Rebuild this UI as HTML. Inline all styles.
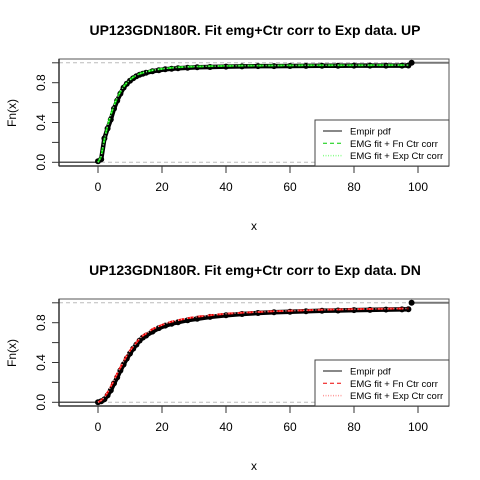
<!DOCTYPE html>
<html><head><meta charset="utf-8">
<style>
body{margin:0;background:#fff;width:480px;height:480px;overflow:hidden}
svg{display:block;font-family:"Liberation Sans",sans-serif}
</style></head>
<body>
<svg id="c" width="480" height="480" viewBox="0 0 480 480"></svg>
<script>
const xTicks=[0,20,40,60,80,100];
const yTicks=[0,0.4,0.8];
const yMinor=[0.2,0.6];
const upX=[0,1,2,3,4,5,6,7,8,9,10,11,12,13,14,15,17,19,21,23,25,28,31,35,40,45,50,55,60,65,70,75,80,85,90,95,97];
const upF=[0.01,0.03,0.24,0.34,0.43,0.54,0.62,0.69,0.75,0.79,0.82,0.845,0.865,0.88,0.89,0.9,0.915,0.925,0.935,0.94,0.945,0.95,0.955,0.958,0.962,0.964,0.966,0.967,0.968,0.969,0.97,0.97,0.971,0.971,0.972,0.972,0.973];
const upFitF=[0.0,0.06,0.23,0.37,0.48,0.57,0.65,0.71,0.76,0.8,0.83,0.855,0.875,0.89,0.9,0.91,0.925,0.935,0.943,0.95,0.955,0.96,0.963,0.966,0.969,0.971,0.972,0.973,0.974,0.975,0.975,0.976,0.976,0.976,0.977,0.977,0.977];
const dnX=[0,1,2,3,4,5,6,7,8,9,10,11,12,13,14,15,17,19,21,23,25,28,31,35,40,45,50,55,60,65,70,75,80,85,90,95,97];
const dnF=[0.0,0.01,0.03,0.07,0.12,0.19,0.25,0.32,0.38,0.44,0.49,0.54,0.58,0.62,0.65,0.67,0.71,0.745,0.77,0.79,0.805,0.825,0.84,0.858,0.875,0.887,0.897,0.905,0.91,0.915,0.92,0.923,0.926,0.929,0.932,0.934,0.935];
const dnFitF=[0.0,0.02,0.05,0.1,0.16,0.22,0.29,0.35,0.41,0.47,0.52,0.56,0.6,0.64,0.67,0.69,0.735,0.765,0.79,0.81,0.825,0.845,0.86,0.875,0.89,0.9,0.908,0.915,0.92,0.925,0.93,0.933,0.936,0.938,0.94,0.942,0.943];
const NS="http://www.w3.org/2000/svg";
const svg=document.getElementById('c');
function mk(t,a,p){const e=document.createElementNS(NS,t);for(const k in a)e.setAttribute(k,a[k]);(p||svg).appendChild(e);return e;}
function panel(off,title,xs,fs,fit,col,col2,tag){
  const g=mk('g',{});
  
  
  const L=59,R=449,T=59+off,B=166+off;
  const X=v=>98+v*3.2, Y=v=>162.3+off-v*99.5;
  const t=mk('text',{x:255,y:35+off,'text-anchor':'middle','font-size':14,'font-weight':'bold'},g);t.textContent=title;
  
  const c=mk('g',{},g);
  
  [0,1].forEach(v=>mk('line',{x1:L,x2:R,y1:Y(v),y2:Y(v),stroke:'#bbb','stroke-dasharray':'4,3'},c));
  mk('line',{x1:L,x2:X(0),y1:Y(0),y2:Y(0),stroke:'#555','stroke-width':1.5},c);
  mk('line',{x1:X(98),x2:R,y1:Y(1),y2:Y(1),stroke:'#777','stroke-width':2},c);
  let d='';xs.forEach((x,i)=>d+=(i?'L':'M')+X(x)+','+Y(fs[i]));
  const emp=mk('path',{d:d,fill:'none',stroke:'#000','stroke-width':4.5},c);
  
  xs.forEach((x,i)=>{const p=mk('circle',{cx:X(x),cy:Y(fs[i]),r:3,fill:'#000'},c);
    });
  const p2=mk('circle',{cx:X(98),cy:Y(1),r:3,fill:'#000'},c);
  
  let d2='';xs.forEach((x,i)=>d2+=(i?'L':'M')+X(x)+','+Y(fit[i]));
  const f1=mk('path',{d:d2,fill:'none',stroke:col,'stroke-width':2,'stroke-dasharray':'6,4'},c);
  
  const f2=mk('path',{d:d2,fill:'none',stroke:col2,'stroke-width':1.5,'stroke-dasharray':'1,2'},c);
  
  mk('rect',{x:L,y:T,width:R-L,height:B-T,fill:'none',stroke:'#555','stroke-width':1},g);
  mk('line',{x1:L,x2:L,y1:T,y2:B,stroke:'#333','stroke-width':1.5},g);
  mk('line',{x1:L,x2:R,y1:B,y2:B,stroke:'#333','stroke-width':1.5},g);
  xTicks.forEach(v=>{mk('line',{x1:X(v),x2:X(v),y1:B,y2:B+7,stroke:'#333'},g);
    const tt=mk('text',{x:X(v),y:B+25,'text-anchor':'middle','font-size':12},g);tt.textContent=v;
    });
  yMinor.concat(yTicks,[1]).forEach(v=>mk('line',{x1:L-7,x2:L,y1:Y(v),y2:Y(v),stroke:'#333'},g));
  yTicks.forEach(v=>{const tt=mk('text',{x:0,y:0,'text-anchor':'middle','font-size':12,transform:`translate(${L-14},${Y(v)}) rotate(-90)`},g);tt.textContent=v.toFixed(1);
    });
  const xl=mk('text',{x:254,y:230+off,'text-anchor':'middle','font-size':12},g);xl.textContent='x';
  
  const yl=mk('text',{x:0,y:0,'text-anchor':'middle','font-size':12,transform:`translate(16,${113+off}) rotate(-90)`},g);yl.textContent='Fn(x)';
  
  const lg=mk('g',{},g);
  
  mk('rect',{x:315,y:120+off,width:134,height:46,fill:'#fff',stroke:'#444'},lg);
  const items=[['Empir pdf','#888','',2],['EMG fit + Fn Ctr corr',col,'4,3',1],['EMG fit + Exp Ctr corr',col2,'1,1.5',1.5]];
  items.forEach((it,i)=>{const y=131+off+i*12.3;
    mk('line',{x1:323,x2:342,y1:y,y2:y,stroke:it[1],'stroke-width':it[3],'stroke-dasharray':it[2]},lg);
    const tx=mk('text',{x:350,y:y+3.5,'font-size':9.5},lg);tx.textContent=it[0];
    });
}
panel(0,'UP123GDN180R. Fit emg+Ctr corr to Exp data. UP',upX,upF,upFitF,'#00cc00','#88ff88','up');
panel(240,'UP123GDN180R. Fit emg+Ctr corr to Exp data. DN',dnX,dnF,dnFitF,'#ee0000','#ff9999','dn');
</script>
</body></html>
